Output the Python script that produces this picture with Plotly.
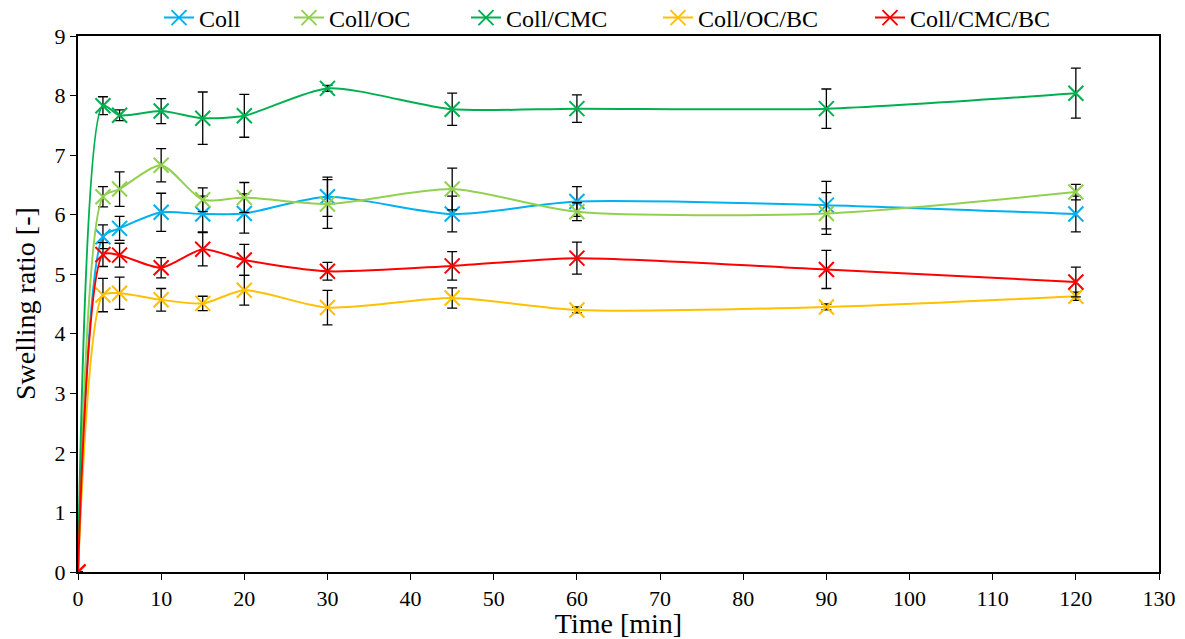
import plotly.graph_objects as go

time_min = [0, 3, 5, 10, 15, 20, 30, 45, 60, 90, 120]

coll = [0, 5.63, 5.77, 6.04, 6.01, 6.02, 6.30, 6.01, 6.22, 6.16, 6.01]
coll_err = [0, 0.2, 0.2, 0.32, 0.3, 0.33, 0.33, 0.3, 0.25, 0.4, 0.3]

coll_oc = [0, 6.30, 6.43, 6.83, 6.25, 6.29, 6.18, 6.43, 6.05, 6.02, 6.38]
coll_oc_err = [0, 0.17, 0.29, 0.28, 0.2, 0.25, 0.41, 0.35, 0.15, 0.35, 0.13]

coll_cmc = [0, 7.83, 7.67, 7.74, 7.62, 7.66, 8.12, 7.77, 7.78, 7.78, 8.04]
coll_cmc_err = [0, 0.15, 0.09, 0.21, 0.44, 0.36, 0.05, 0.27, 0.23, 0.33, 0.42]

coll_oc_bc = [0, 4.65, 4.68, 4.57, 4.51, 4.73, 4.44, 4.60, 4.40, 4.45, 4.63]
coll_oc_bc_err = [0, 0.28, 0.27, 0.19, 0.12, 0.25, 0.29, 0.17, 0.05, 0.05, 0.07]

coll_cmc_bc = [0, 5.33, 5.32, 5.11, 5.42, 5.24, 5.05, 5.14, 5.27, 5.08, 4.87]
coll_cmc_bc_err = [0, 0.2, 0.2, 0.17, 0.28, 0.26, 0.15, 0.24, 0.27, 0.32, 0.25]

series = [
    ("Coll", coll, coll_err, "#00B0F0"),
    ("Coll/OC", coll_oc, coll_oc_err, "#92D050"),
    ("Coll/CMC", coll_cmc, coll_cmc_err, "#00B050"),
    ("Coll/OC/BC", coll_oc_bc, coll_oc_bc_err, "#FFC000"),
    ("Coll/CMC/BC", coll_cmc_bc, coll_cmc_bc_err, "#FF0000"),
]

FONT = "Liberation Serif, Times New Roman, serif"
W, H = 1177, 631  # page body adds an 8px margin
legend_left_px = [151, 281, 458, 650, 862]

fig = go.Figure()
legend_layout = {}
for i, (name, ys, errs, color) in enumerate(series):
    lg = "legend" if i == 0 else f"legend{i + 1}"
    fig.add_trace(go.Scatter(
        x=time_min, y=ys, name=name, legend=lg,
        mode="lines+markers",
        line=dict(color=color, width=2, shape="spline", smoothing=0.7),
        marker=dict(symbol="x-thin-open", size=15, color=color,
                    line=dict(color=color, width=2)),
        error_y=dict(type="data", array=errs, visible=True,
                     color="black", thickness=1.3, width=5),
    ))
    legend_layout[lg] = dict(
        xref="container", yref="container",
        x=legend_left_px[i] / W, xanchor="left",
        y=1 - 10 / H, yanchor="middle",
        font=dict(family=FONT, size=24, color="black"),
        bgcolor="rgba(0,0,0,0)", borderwidth=0,
    )

fig.update_layout(
    width=W, height=H,
    margin=dict(l=70, r=26, t=28, b=67, autoexpand=False),
    paper_bgcolor="white", plot_bgcolor="white",
    font=dict(family=FONT, size=22, color="black"),
    showlegend=True,
    annotations=[dict(
        text="Swelling ratio [-]", textangle=-90,
        xref="paper", yref="paper", x=-0.049, y=0.5,
        xanchor="center", yanchor="middle", showarrow=False,
        font=dict(family=FONT, size=28, color="black"),
    )],
    **legend_layout,
)
fig.update_xaxes(
    range=[0, 130], dtick=10, tick0=0,
    showgrid=False, zeroline=False,
    showline=True, linecolor="black", linewidth=2, mirror=True,
    ticks="outside", ticklen=6, tickcolor="black",
    tickfont=dict(family=FONT, size=22),
    title=dict(text="Time [min]", font=dict(family=FONT, size=28), standoff=0),
)
fig.update_yaxes(
    range=[0, 9], dtick=1, tick0=0,
    showgrid=False, zeroline=False,
    showline=True, linecolor="black", linewidth=2, mirror=True,
    ticks="outside", ticklen=6, tickcolor="black",
    tickfont=dict(family=FONT, size=22),
)

fig.write_html("out.html")
